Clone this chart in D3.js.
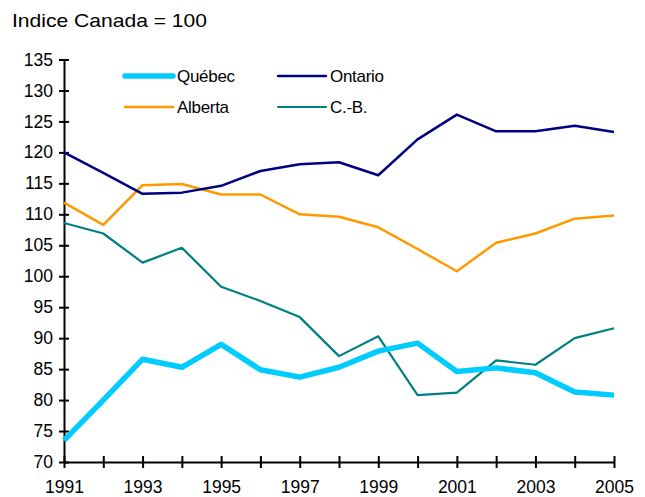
<!DOCTYPE html>
<html>
<head>
<meta charset="utf-8">
<script src="https://cdn.jsdelivr.net/npm/d3@7"></script>
<style>
  body { margin: 0; background: #fff; }
  text { font-family: Arial, "Liberation Sans", sans-serif; fill: #000; }
</style>
</head>
<body>
<div id="chart"></div>
<script>
var svgWidth = 645;
var svgHeight = 497;

// data (index, Canada = 100)
var years = [1991, 1992, 1993, 1994, 1995, 1996, 1997, 1998, 1999, 2000, 2001, 2002, 2003, 2004, 2005];
var quebec  = [73.5, 80.0, 86.6, 85.3, 89.0, 84.9, 83.7, 85.3, 87.9, 89.2, 84.6, 85.2, 84.4, 81.3, 80.8];
var ontario = [120.0, 116.7, 113.3, 113.5, 114.6, 117.0, 118.1, 118.4, 116.3, 122.1, 126.1, 123.4, 123.4, 124.3, 123.3];
var alberta = [111.9, 108.3, 114.7, 114.9, 113.2, 113.2, 110.0, 109.6, 107.9, 104.4, 100.8, 105.4, 106.9, 109.3, 109.8];
var cb      = [108.6, 106.9, 102.2, 104.6, 98.3, 96.0, 93.4, 87.1, 90.3, 80.8, 81.2, 86.4, 85.7, 90.0, 91.6];
var yTicks = [70, 75, 80, 85, 90, 95, 100, 105, 110, 115, 120, 125, 130, 135];
var seriesNames = ["Québec", "Ontario", "Alberta", "C.-B."];

var series = [
  { name: seriesNames[0], values: quebec,  color: "#00ccff", width: 5.5 },
  { name: seriesNames[1], values: ontario, color: "#000080", width: 2.5 },
  { name: seriesNames[2], values: alberta, color: "#ff9900", width: 2.5 },
  { name: seriesNames[3], values: cb,      color: "#008080", width: 2.2 }
];

var svg = d3.select("#chart")
  .append("svg")
  .attr("width", svgWidth)
  .attr("height", svgHeight);

var x = d3.scaleLinear().domain([1991, 2005]).range([64, 614]);
var y = d3.scaleLinear().domain([70, 135]).range([462, 59.5]);

// title
svg.append("text")
  .attr("x", 12)
  .attr("y", 27)
  .attr("font-size", "18.5px")
  .attr("textLength", 195)
  .attr("lengthAdjust", "spacingAndGlyphs")
  .text("Indice Canada = 100");

// y axis
var yAxis = svg.append("g")
  .attr("transform", "translate(64,0)")
  .call(d3.axisLeft(y).tickValues(yTicks).tickSizeInner(5).tickSizeOuter(0).tickPadding(6));
yAxis.selectAll(".tick line").attr("x1", -5).attr("x2", 5).attr("stroke-width", 2);
yAxis.select(".domain").attr("stroke-width", 2);
yAxis.selectAll("text").attr("font-size", "17.5px").attr("font-family", "Arial, 'Liberation Sans', sans-serif");

// x axis
var xAxis = svg.append("g")
  .attr("transform", "translate(0,462)")
  .call(d3.axisBottom(x).tickValues(years).tickSizeInner(6).tickSizeOuter(0)
    .tickFormat(d => (d - 1991) % 2 === 0 ? d : ""));
xAxis.selectAll(".tick line").attr("y1", -6).attr("y2", 6).attr("stroke-width", 2);
xAxis.select(".domain").attr("stroke-width", 2);
xAxis.selectAll("text")
  .attr("y", 30.5)
  .attr("dy", 0)
  .attr("font-size", "17.5px")
  .attr("font-family", "Arial, 'Liberation Sans', sans-serif");

// lines
var line = d3.line()
  .x((d, i) => x(years[i]))
  .y(d => y(d));

// draw thinner ones first, Québec on top like the original
var order = [2, 1, 3, 0];
order.forEach(k => {
  var s = series[k];
  svg.append("path")
    .datum(s.values)
    .attr("fill", "none")
    .attr("stroke", s.color)
    .attr("stroke-width", s.width)
    .attr("stroke-linejoin", "round")
    .attr("d", line);
});

// legend
var legendPos = [
  { lx: 125, ly: 76 },
  { lx: 278, ly: 76 },
  { lx: 125, ly: 107 },
  { lx: 278, ly: 107 }
];
series.forEach((s, i) => {
  var p = legendPos[i];
  svg.append("line")
    .attr("x1", p.lx).attr("x2", p.lx + 48)
    .attr("y1", p.ly).attr("y2", p.ly)
    .attr("stroke", s.color)
    .attr("stroke-width", s.width)
    .attr("stroke-linecap", "round");
  svg.append("text")
    .attr("x", p.lx + 52)
    .attr("y", p.ly + 6)
    .attr("font-size", "17px")
    .attr("letter-spacing", "-0.3px")
    .text(s.name);
});
</script>
</body>
</html>
